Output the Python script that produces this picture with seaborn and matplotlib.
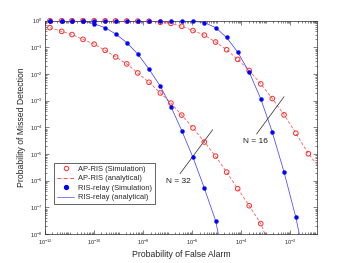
import matplotlib
matplotlib.use("Agg")
import matplotlib.pyplot as plt
from matplotlib.lines import Line2D
from matplotlib.ticker import LogLocator, NullFormatter
import numpy as np
import pandas as pd
import seaborn as sns

# log10 of false-alarm probability at the marker positions
x_grid = [-11.80, -11.32, -10.90, -10.45, -10.00, -9.55, -9.12, -8.67, -8.22, -7.76,
          -7.30, -6.87, -6.43, -5.97, -5.51, -5.05, -4.60, -4.15, -3.68, -3.21,
          -2.74, -2.26, -1.78, -1.27]

# log10 of missed-detection probability
ap32 = [-0.26, -0.40, -0.52, -0.70, -0.88, -1.11, -1.36, -1.62, -1.96, -2.31,
        -2.71, -3.09, -3.54, -4.02, -4.55, -5.08, -5.68, -6.30, -6.94, -7.61]
ap16 = [0.0, 0.0, 0.0, 0.0, 0.0, -0.005, -0.008, -0.01, -0.015, -0.02,
        -0.06, -0.10, -0.21, -0.37, -0.54, -0.80, -1.09, -1.45, -1.87, -2.37,
        -2.92, -3.53, -4.22, -4.99]
relay32 = [0.0, 0.0, 0.0, -0.01, -0.12, -0.26, -0.50, -0.82, -1.25, -1.82,
           -2.46, -3.22, -4.12, -5.13, -6.28, -7.50]
relay16 = [0.0, 0.0, 0.0, 0.0, 0.0, 0.0, 0.0, 0.0, 0.0, 0.0,
           0.0, 0.0, 0.0, -0.02, -0.07, -0.26, -0.63, -1.18, -1.93, -2.93,
           -4.18, -5.68, -7.38]

# where each analytical curve leaves the plot (log10 x, log10 y)
ap32_end = (-3.04, -8.0)
ap16_end = (-0.92, -5.40)
relay32_end = (-4.94, -8.0)
relay16_end = (-1.64, -8.0)

RED = "#ff2b2b"
RED_LINE = "#ff5050"
BLUE = "#0000ff"
BLUE_LINE = "#4646ff"

sns.set_style("ticks")
plt.rcParams["font.family"] = ["Liberation Sans", "DejaVu Sans"]
plt.rcParams["mathtext.fontset"] = "custom"
plt.rcParams["mathtext.rm"] = "Liberation Sans"
plt.rcParams["mathtext.it"] = "Liberation Sans:italic"

fig = plt.figure(figsize=(3.5, 2.63), dpi=100)
ax = fig.add_axes([0.1286, 0.1103, 0.777, 0.811])
ax.set_xscale("log")
ax.set_yscale("log")


def curve(ys, end, color, line_color, ls, filled):
    n = len(ys)
    xs = np.power(10.0, x_grid[:n])
    yv = np.power(10.0, ys)
    line_df = pd.DataFrame({
        "pfa": np.append(xs, 10 ** end[0]),
        "pmd": np.append(yv, 10 ** end[1]),
    })
    sns.lineplot(data=line_df, x="pfa", y="pmd", ax=ax, color=line_color,
                 linestyle=ls, linewidth=0.55, sort=False, estimator=None)
    if ls != "-":
        ax.lines[-1].set_dashes((4, 2.5))
    pts = pd.DataFrame({"pfa": xs, "pmd": yv})
    if filled:
        sns.scatterplot(data=pts, x="pfa", y="pmd", ax=ax, marker="o", s=8,
                        color=color, edgecolor=color, linewidth=0.3,
                        clip_on=False, zorder=4)
    else:
        sns.scatterplot(data=pts, x="pfa", y="pmd", ax=ax, marker="o", s=11,
                        facecolor="none", edgecolor=color, linewidth=0.7,
                        clip_on=False, zorder=4)


curve(ap32, ap32_end, RED, RED_LINE, "--", False)
curve(ap16, ap16_end, RED, RED_LINE, "--", False)
curve(relay32, relay32_end, BLUE, BLUE_LINE, "-", True)
curve(relay16, relay16_end, BLUE, BLUE_LINE, "-", True)

# N annotations
ax.plot([10 ** -6.50, 10 ** -5.17], [10 ** -5.74, 10 ** -4.09],
        color="#333333", lw=0.55)
ax.plot([10 ** -3.38, 10 ** -2.26], [10 ** -4.25, 10 ** -2.85],
        color="#333333", lw=0.55)
ax.text(10 ** -6.58, 10 ** -6.04, "N = 32", fontsize=6, ha="center",
        va="center", color="#1a1a1a")
ax.text(10 ** -3.41, 10 ** -4.54, "N = 16", fontsize=6, ha="center",
        va="center", color="#1a1a1a")

ax.set_xlim(1e-12, 10 ** -0.92)
ax.set_ylim(1e-8, 1)
ax.set_xticks([1e-12, 1e-10, 1e-8, 1e-6, 1e-4, 1e-2])
ax.xaxis.set_minor_locator(LogLocator(base=10, subs=np.arange(1, 10), numticks=40))
ax.xaxis.set_minor_formatter(NullFormatter())
ax.yaxis.set_major_locator(LogLocator(base=10, numticks=20))
ax.yaxis.set_minor_locator(LogLocator(base=10, subs=np.arange(2, 10), numticks=20))
ax.yaxis.set_minor_formatter(NullFormatter())

ax.tick_params(which="both", direction="in", top=True, right=True,
               width=0.4, color="#262626", labelsize=4, labelcolor="#262626")
ax.tick_params(axis="x", pad=3)
ax.tick_params(axis="y", pad=2)
ax.tick_params(which="major", length=3)
ax.tick_params(which="minor", length=1.5)
for sp in ax.spines.values():
    sp.set_linewidth(0.5)
    sp.set_color("#262626")

ax.set_xlabel("Probability of False Alarm", fontsize=6.2, color="#262626",
              labelpad=2)
ax.set_ylabel("Probability of Missed Detection", fontsize=6.2,
              color="#262626", labelpad=3)

legend_lines = {
    "AP-RIS (Simulation)": dict(ls="none", marker="o", mfc="none", mec=RED,
                                ms=3.2, mew=0.7),
    "AP-RIS (analytical)": dict(color=RED_LINE, lw=0.7, dashes=(4, 2.5)),
    "RIS-relay (Simulation)": dict(ls="none", marker="o", mfc=BLUE, mec=BLUE,
                                   ms=2.8),
    "RIS-relay (analytical)": dict(ls="-", color="#6a6aff", lw=0.6),
}
handles = [Line2D([0, 1], [0, 1], **kw) for kw in legend_lines.values()]
leg = ax.legend(handles, list(legend_lines), loc="lower left",
                bbox_to_anchor=(0.034, 0.141), fontsize=5.4, frameon=True,
                fancybox=False, edgecolor="#262626", framealpha=1,
                handlelength=2.3, handletextpad=0.5, borderpad=0.35,
                labelspacing=0.3, borderaxespad=0)
leg.get_frame().set_linewidth(0.5)

fig.savefig("out.png", dpi=100)
